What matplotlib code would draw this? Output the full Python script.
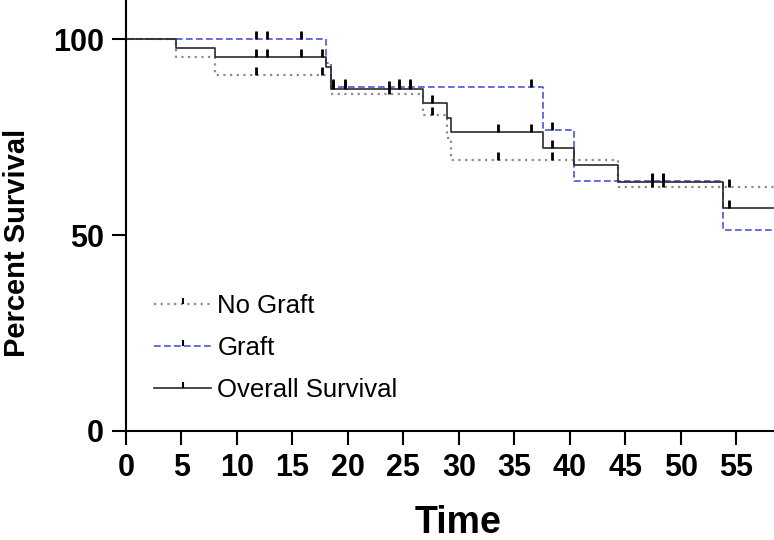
import matplotlib
matplotlib.use("Agg")
import matplotlib.pyplot as plt
from matplotlib.lines import Line2D

# ---- data ----
nograft_t = [0, 4.5, 8.0, 18.5, 26.8, 28.9, 29.3, 44.3, 58.5]
nograft_s = [100, 95.5, 90.9, 86.0, 80.6, 74.7, 69.1, 62.2, 62.2]
nograft_cens = [11.75, 17.7, 23.7, 27.6, 33.5, 38.4, 47.4, 48.4, 54.3]

graft_t = [0, 18.0, 18.5, 37.6, 40.4, 53.8, 58.5]
graft_s = [100, 94.0, 87.7, 76.8, 63.9, 51.3, 51.3]
graft_cens = [11.75, 12.7, 15.75, 18.7, 19.7, 24.6, 25.6, 36.5, 38.4, 47.4, 48.4]

overall_t = [0, 4.5, 8.0, 18.0, 18.5, 26.8, 28.9, 29.3, 37.6, 40.4, 44.3, 53.8, 58.5]
overall_s = [100, 97.7, 95.5, 93.0, 87.2, 83.6, 80.0, 76.3, 72.2, 67.9, 63.5, 56.9, 56.9]
overall_cens = [11.75, 12.7, 15.75, 17.7, 18.7, 19.7, 23.7, 24.6, 25.6, 27.6,
                33.5, 36.5, 38.4, 47.4, 48.4, 54.3]

labels = ["No Graft", "Graft", "Overall Survival"]
xticks = list(range(0, 60, 5))
yticks = [0, 50, 100]

# ---- styles ----
styles = [
    dict(color="#8c8c8c", linestyle=(0, (1, 2)), lw=1.6),
    dict(color="#4a55d6", linestyle=(0, (4, 2)), lw=1.2),
    dict(color="#2a2a2a", linestyle="-", lw=1.2),
]
tick_marker = [(0, 0), (0, 1)]
FONT = "Liberation Sans"

def value_at(ts, ss, x):
    v = ss[0]
    for t, s in zip(ts, ss):
        if t <= x:
            v = s
    return v

fig = plt.figure(figsize=(7.74, 5.40), dpi=100)
ax = fig.add_axes([126/774, 109/540, 648/774, 431/540])

series = [(nograft_t, nograft_s, nograft_cens),
          (graft_t, graft_s, graft_cens),
          (overall_t, overall_s, overall_cens)]
for (ts, ss, cs), st in zip(series, styles):
    ax.step(ts, ss, where="post", **st)
    cy = [value_at(ts, ss, c) for c in cs]
    ax.plot(cs, cy, linestyle="none", marker=tick_marker, markersize=11,
            markeredgewidth=2.0, color="black")

ax.set_xlim(0, 58.4)
ax.set_ylim(0, 110)
ax.set_xticks(xticks)
ax.set_yticks(yticks)
for s in ["top", "right"]:
    ax.spines[s].set_visible(False)
for s in ["left", "bottom"]:
    ax.spines[s].set_linewidth(1.5)
ax.tick_params(direction="out", length=10, width=1.5, pad=6)
for lab in ax.get_xticklabels() + ax.get_yticklabels():
    lab.set_fontfamily(FONT)
    lab.set_fontweight("bold")
    lab.set_fontsize(22)

ax.set_xlabel("Time", fontsize=27, fontweight="bold", family=FONT)
ax.set_ylabel("Percent Survival", fontsize=21, fontweight="bold", family=FONT)
ax.xaxis.set_label_coords(332/648, -74/431)
ax.yaxis.set_label_coords(-95/648, 188/431)

handles = [Line2D([0], [0], marker=tick_marker, markersize=9, markeredgewidth=1.5,
                  markeredgecolor="black", **st) for st in styles]
ax.legend(handles, labels, loc="lower left", bbox_to_anchor=(0.008, 0.013), frameon=False,
          numpoints=1, handlelength=2.2, handletextpad=0.25, labelspacing=0.7,
          prop=dict(family=FONT, size=18.5))

fig.savefig("out.png", dpi=100)
